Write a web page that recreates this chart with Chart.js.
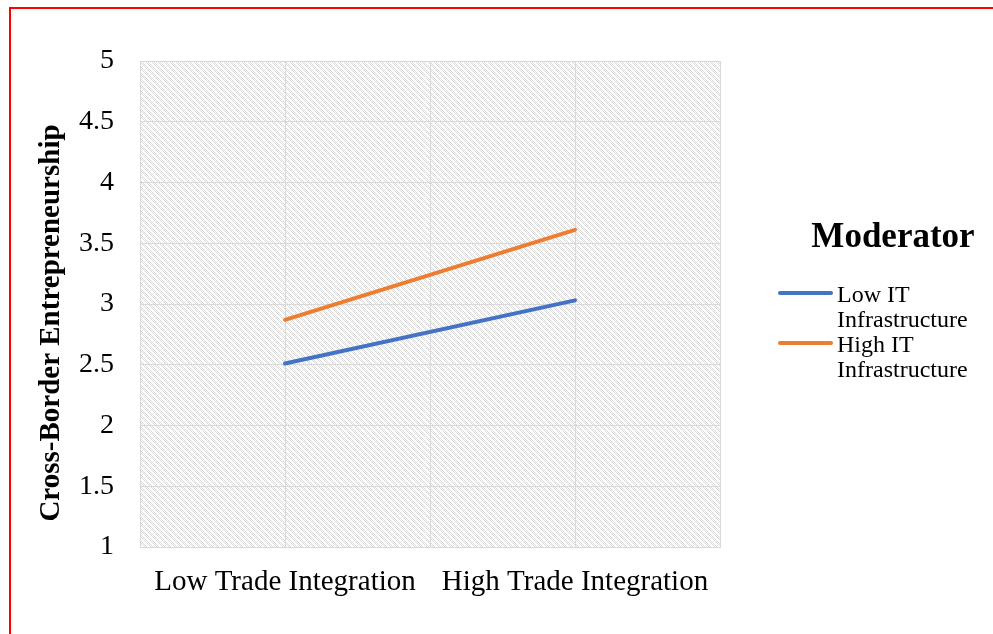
<!DOCTYPE html>
<html>
<head>
<meta charset="utf-8">
<script src="https://cdn.jsdelivr.net/npm/chart.js@4"></script>
<style>
  html, body { margin: 0; padding: 0; background: #fff; }
  body { width: 993px; height: 634px; position: relative; overflow: hidden; }
  #frame { position: absolute; left: 9px; top: 7px; width: 1100px; height: 700px; border: 2px solid #ff0000; }
  #wrap { position: absolute; left: 0; top: 0; width: 993px; height: 634px; }
</style>
</head>
<body>
<div id="frame"></div>
<div id="wrap"><canvas id="chart" width="993" height="634"></canvas></div>
<script>
// Chart data
const categories = ['Low Trade Integration', 'High Trade Integration'];
const seriesNames = ['Low IT Infrastructure', 'High IT Infrastructure'];
const lowIT = [2.51, 3.03];
const highIT = [2.87, 3.61];
const yTicks = [1, 1.5, 2, 2.5, 3, 3.5, 4, 4.5, 5];
const legendTitle = 'Moderator';
const yTitle = 'Cross-Border Entrepreneurship';

const serif = '"Liberation Serif", "Times New Roman", serif';

// categories sit at odd positions on a 0..4 axis so gridlines fall between and on them
function toPoints(values) {
    return values.map((v, i) => ({ x: 2 * i + 1, y: v }));
}

// light dotted diagonal hatch used behind the plot
function makeHatch() {
    const tile = document.createElement('canvas');
    tile.width = 6;
    tile.height = 6;
    const c = tile.getContext('2d');
    c.fillStyle = '#ffffff';
    c.fillRect(0, 0, 6, 6);
    c.fillStyle = '#dadada';
    for (let y = 0; y < 6; y++) {
        for (let k = 0; k < 3; k++) {
            const x = (y + k) % 6;
            if ((x + y) % 2 === 0) c.fillRect(x, y, 1, 1);
        }
    }
    return c.createPattern(tile, 'repeat');
}

const hatchPlugin = {
    id: 'hatch',
    beforeDraw(chart) {
        const { ctx, chartArea: a } = chart;
        ctx.save();
        ctx.fillStyle = makeHatch();
        ctx.fillRect(a.left, a.top, a.right - a.left, a.bottom - a.top);
        ctx.restore();
    }
};

// y title and the legend on the right with wrapped labels
const sideLegend = {
    id: 'sideLegend',
    afterDraw(chart) {
        const ctx = chart.ctx;
        ctx.save();
        ctx.fillStyle = '#000';

        // vertical axis title
        ctx.save();
        ctx.translate(52, 323);
        ctx.rotate(-Math.PI / 2);
        ctx.font = 'bold 29px ' + serif;
        ctx.textAlign = 'center';
        ctx.textBaseline = 'middle';
        ctx.fillText(yTitle, 0, 0);
        ctx.restore();

        ctx.font = 'bold 35px ' + serif;
        ctx.textAlign = 'center';
        ctx.textBaseline = 'alphabetic';
        ctx.fillText(legendTitle, 893, 247);

        ctx.font = '24px ' + serif;
        ctx.textAlign = 'left';
        const rows = [293, 343];
        chart.data.datasets.forEach((ds, i) => {
            const y = rows[i];
            ctx.strokeStyle = ds.borderColor;
            ctx.lineWidth = 4;
            ctx.lineCap = 'round';
            ctx.beginPath();
            ctx.moveTo(780, y);
            ctx.lineTo(831, y);
            ctx.stroke();
            const words = ds.label.split(' ');
            ctx.fillText(words.slice(0, 2).join(' '), 837, y + 8.5);
            ctx.fillText(words.slice(2).join(' '), 837, y + 34);
        });
        ctx.restore();
    }
};

new Chart(document.getElementById('chart'), {
    type: 'line',
    data: {
        datasets: [
            { label: seriesNames[0], data: toPoints(lowIT), borderColor: '#4472C4', borderWidth: 4, borderCapStyle: 'round', pointRadius: 0 },
            { label: seriesNames[1], data: toPoints(highIT), borderColor: '#ED7D31', borderWidth: 4, borderCapStyle: 'round', pointRadius: 0 }
        ]
    },
    options: {
        responsive: false,
        animation: false,
        layout: { padding: { top: 61, right: 273, left: 0, bottom: 0 } },
        plugins: {
            legend: { display: false },
            tooltip: { enabled: false }
        },
        scales: {
            x: {
                type: 'linear',
                min: 0,
                max: 4,
                afterFit(scale) { scale.height = 87; },
                afterBuildTicks(scale) {
                    scale.ticks = [0, 1, 2, 3, 4].map(v => ({ value: v }));
                },
                grid: { color: '#d9d9d9', lineWidth: 1, drawTicks: false },
                border: { color: '#d9d9d9' },
                ticks: {
                    padding: 18,
                    color: '#000',
                    font: { family: serif, size: 29 },
                    maxRotation: 0,
                    autoSkip: false,
                    callback: v => (v % 2 === 1 ? categories[(v - 1) / 2] : '')
                }
            },
            y: {
                min: 1,
                max: 5,
                afterFit(scale) { scale.width = 140; },
                afterBuildTicks(scale) {
                    scale.ticks = yTicks.map(v => ({ value: v }));
                },
                grid: { color: '#d9d9d9', lineWidth: 1, drawTicks: false },
                border: { color: '#d9d9d9' },
                ticks: {
                    padding: 26,
                    color: '#000',
                    font: { family: serif, size: 28 },
                    callback: v => String(v)
                }
            }
        }
    },
    plugins: [hatchPlugin, sideLegend]
});
</script>
</body>
</html>
